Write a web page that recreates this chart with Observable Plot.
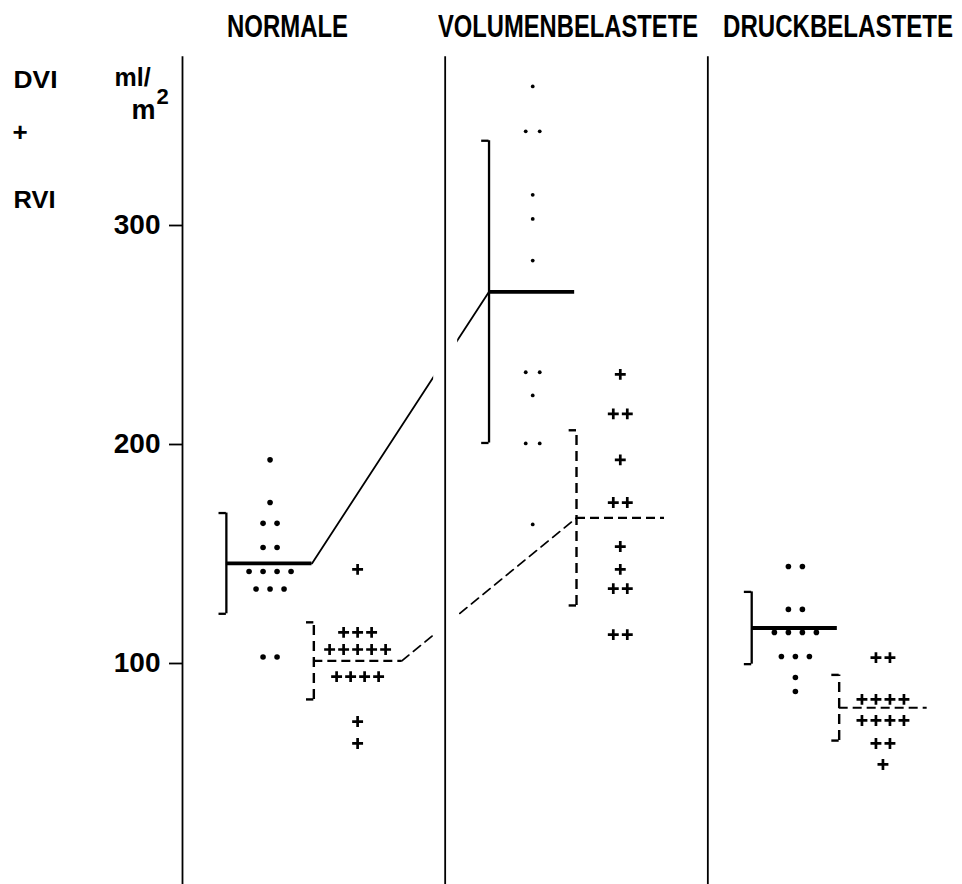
<!DOCTYPE html>
<html>
<head>
<meta charset="utf-8">
<script src="https://cdn.jsdelivr.net/npm/d3@7"></script>
<script src="https://cdn.jsdelivr.net/npm/@observablehq/plot@0.6"></script>
<style>
  html, body { margin: 0; padding: 0; background: #fff; }
  #chart { position: relative; width: 962px; height: 884px; overflow: hidden; }
  #chart svg { position: absolute; left: 0; top: 0; }
  .title { position: absolute; top: 10px; font-family: "Liberation Sans", Arial, sans-serif; font-weight: bold;
           font-size: 32px; line-height: 32px; white-space: nowrap; transform-origin: 0 0; color: #000; }
</style>
</head>
<body>
<div id="chart"></div>
<script>
// ---------- data (ml/m2) ----------
const groups = ["NORMALE", "VOLUMENBELASTETE", "DRUCKBELASTETE"];
const sideLabels = ["DVI", "+", "RVI"];
const unitLabel = ["ml/", "m", "2"];
const yTicks = [100, 200, 300];

// DVI (dots)
const dviNormale = [193, 173.5, 164, 164, 153, 153, 142, 142, 142, 142, 134, 134, 134, 103, 103];
const dviVolumen = [363.5, 343, 343, 314, 303, 284, 233, 233, 222.4, 200.5, 200.5, 163.5];
const dviDruck   = [144.3, 144.3, 124.7, 124.7, 114.2, 114.2, 114.2, 114.2, 103.2, 103.2, 103.2, 93.6, 87.2];
// RVI (crosses)
const rviNormale = [143, 114.2, 114.2, 114.2, 106.4, 106.4, 106.4, 106.4, 106.4, 94, 94, 94, 94, 73.5, 63.5];
const rviVolumen = [232, 214, 214, 193, 173.5, 173.5, 153.4, 143, 134.2, 134.2, 113.2, 113.2];
const rviDruck   = [102.7, 102.7, 83.6, 83.6, 83.6, 83.6, 74, 74, 74, 74, 63.5, 63.5, 53.9];

// means and standard deviations
const dviMean = [145.7, 269.7, 116.2];
const dviSD   = [23, 69, 16.5];
const rviMean = [101.2, 166.5, 79.8];
const rviSD   = [17.6, 40, 15];

// ---------- layout (panel units: one panel = 1) ----------
const X0 = 182, PANEL = 262.67;
const DVI_POS = 1 / 3, RVI_POS = 2 / 3;
const DVI_BR = 0.167, DVI_END = 0.493;
const RVI_BR = 0.5, RVI_END = 0.835;
const CAP = 0.028;
const SLOT = 14 / PANEL;
const TOP = 377;

function spread(values, gi, center) {
  const counts = new Map();
  values.forEach(v => counts.set(v, (counts.get(v) || 0) + 1));
  const seen = new Map();
  return values.map(v => {
    const n = counts.get(v), k = seen.get(v) || 0;
    seen.set(v, k + 1);
    return {g: gi, v, x: gi + center + (k - (n - 1) / 2) * SLOT};
  });
}

const dviSets = [dviNormale, dviVolumen, dviDruck];
const rviSets = [rviNormale, rviVolumen, rviDruck];
const dviPts = dviSets.flatMap((vals, i) => spread(vals, i, DVI_POS));
const rviPts = rviSets.flatMap((vals, i) => spread(vals, i, RVI_POS));

const idx = groups.map((_, i) => i);
const caps = (mean, sd, br) => idx.flatMap(i => [
  {y: mean[i] - sd[i], x1: i + br - CAP, x2: i + br},
  {y: mean[i] + sd[i], x1: i + br - CAP, x2: i + br}
]);

const FONT = "Liberation Sans, Arial, sans-serif";
const txt = {fontFamily: FONT, fontWeight: "bold", fill: "black", frameAnchor: "top-left", textAnchor: "start", lineAnchor: "bottom"};

const plot = Plot.plot({
  width: 962,
  height: 884,
  marginLeft: X0, marginRight: 0, marginTop: 0, marginBottom: 0,
  style: {fontFamily: FONT, background: "white", color: "black", overflow: "visible"},
  x: {domain: [0, 3], range: [X0, X0 + 3 * PANEL], axis: null},
  y: {domain: [0, 300], range: [882, 225], axis: null},
  marks: [
    // connecting lines between NORMALE and VOLUMENBELASTETE
    Plot.line([{x: 0 + DVI_END, y: dviMean[0]}, {x: 1 + DVI_BR, y: dviMean[1]}],
      {x: "x", y: "y", stroke: "black", strokeWidth: 1.8}),
    Plot.line([{x: 0 + RVI_END, y: rviMean[0]}, {x: 1 + RVI_BR, y: rviMean[1]}],
      {x: "x", y: "y", stroke: "black", strokeWidth: 1.8, strokeDasharray: "9,6"}),
    // interruption where they cross the divider
    Plot.ruleX([1], {y1: 105, y2: 250, stroke: "white", strokeWidth: 24}),
    // axis line and panel dividers
    Plot.ruleX([0, 1, 2], {y1: TOP, y2: -3, stroke: "black", strokeWidth: 1.8}),
    Plot.axisY(yTicks, {anchor: "left", tickSize: 13, tickPadding: 9, fontSize: 28,
      fontWeight: "bold", fontFamily: FONT, strokeWidth: 1.8, label: null, tickFormat: d => String(d)}),
    // DVI: SD brackets + mean
    Plot.ruleX(idx, {x: i => i + DVI_BR, y1: i => dviMean[i] - dviSD[i], y2: i => dviMean[i] + dviSD[i],
      stroke: "black", strokeWidth: 2.3}),
    Plot.ruleY(caps(dviMean, dviSD, DVI_BR), {y: "y", x1: "x1", x2: "x2", stroke: "black", strokeWidth: 2.3}),
    Plot.ruleY(idx, {y: i => dviMean[i], x1: i => i + DVI_BR, x2: i => i + DVI_END, stroke: "black", strokeWidth: 3.8}),
    // RVI: dashed SD brackets + dashed mean
    Plot.ruleX(idx, {x: i => i + RVI_BR, y1: i => rviMean[i] - rviSD[i], y2: i => rviMean[i] + rviSD[i],
      stroke: "black", strokeWidth: 2.4, strokeDasharray: "10,6"}),
    Plot.ruleY(caps(rviMean, rviSD, RVI_BR), {y: "y", x1: "x1", x2: "x2", stroke: "black", strokeWidth: 2.4}),
    Plot.ruleY(idx, {y: i => rviMean[i], x1: i => i + RVI_BR, x2: i => i + RVI_END,
      stroke: "black", strokeWidth: 2.2, strokeDasharray: "9,5"}),
    // points
    Plot.dot(dviPts.filter(d => d.g !== 1), {x: "x", y: "v", r: 2.8, fill: "black", stroke: null}),
    Plot.dot(dviPts.filter(d => d.g === 1), {x: "x", y: "v", r: 1.9, fill: "black", stroke: null}),
    Plot.dot(rviPts, {x: "x", y: "v", symbol: "plus", r: 3.6, stroke: "black", strokeWidth: 2.7}),
    // side labels
    Plot.text([sideLabels[0]], {...txt, text: d => d, fontSize: 24, dx: 13 - X0, dy: 87}),
    Plot.text([sideLabels[1]], {...txt, text: d => d, fontSize: 26, dx: 12 - X0, dy: 140}),
    Plot.text([sideLabels[2]], {...txt, text: d => d, fontSize: 24, dx: 13 - X0, dy: 207}),
    Plot.text([unitLabel[0]], {...txt, text: d => d, fontSize: 25, dx: 114 - X0, dy: 85}),
    Plot.text([unitLabel[1]], {...txt, text: d => d, fontSize: 27, dx: 131 - X0, dy: 118}),
    Plot.text([unitLabel[2]], {...txt, text: d => d, fontSize: 22, dx: 156 - X0, dy: 103})
  ]
});

const chart = document.getElementById("chart");
chart.appendChild(plot);

// condensed lettering of the side labels
const widths = {DVI: 44, RVI: 42};
d3.select(plot).selectAll("text").each(function () {
  const t = this.textContent;
  if (widths[t]) {
    this.setAttribute("textLength", widths[t]);
    this.setAttribute("lengthAdjust", "spacingAndGlyphs");
  }
});

// column titles above each panel (condensed to the reference widths)
const titleLeft = [227, 438, 723];
const titleWidth = [121, 260, 230];
groups.forEach((g, i) => {
  const s = document.createElement("span");
  s.className = "title";
  s.textContent = g;
  s.style.left = titleLeft[i] + "px";
  chart.appendChild(s);
  const w = s.getBoundingClientRect().width;
  s.style.transform = `scaleX(${titleWidth[i] / w})`;
});
</script>
</body>
</html>
